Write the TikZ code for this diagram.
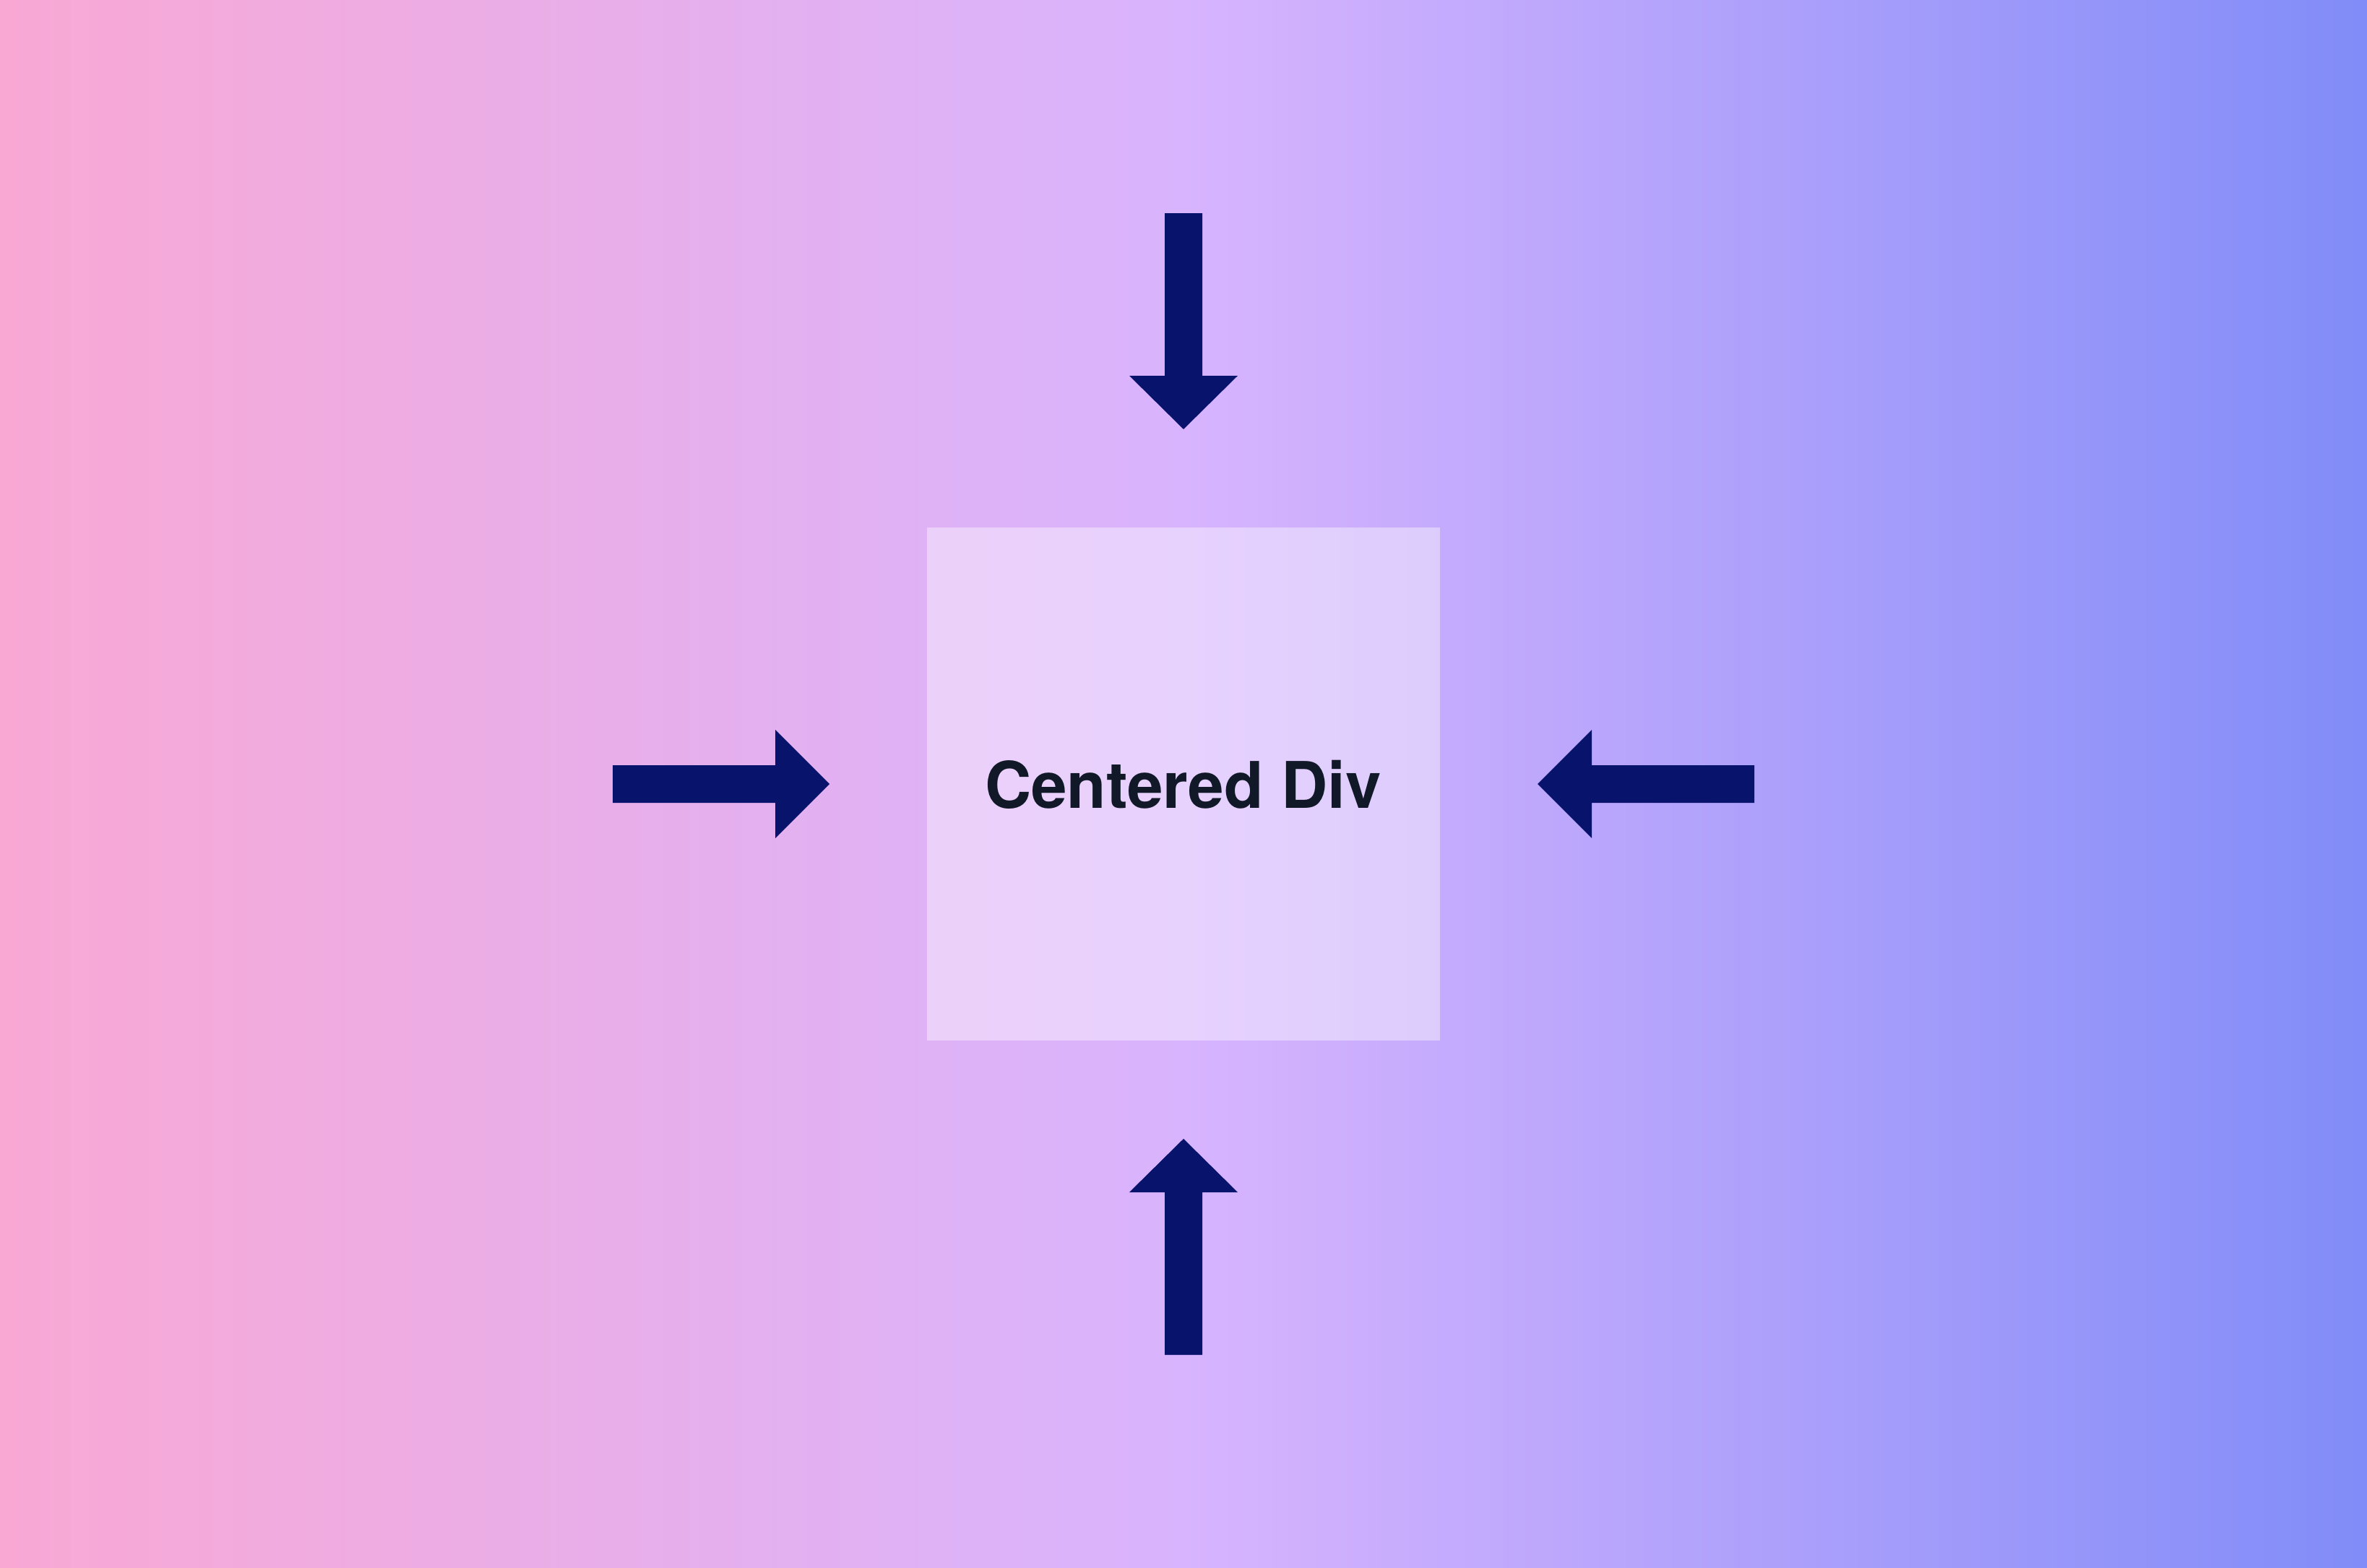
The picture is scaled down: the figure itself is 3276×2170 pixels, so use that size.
\documentclass[tikz,border=0pt]{standalone}
\usepackage{fontspec}
\setmainfont{TeX Gyre Heros}
\definecolor{pinkc}{HTML}{F9A8D4}
\definecolor{purplec}{HTML}{D8B4FE}
\definecolor{indigoc}{HTML}{818CF8}
\definecolor{arrowc}{HTML}{08136B}
\definecolor{textc}{HTML}{111827}
\tikzset{
  bigarrow/.style={fill=arrowc, draw=none},
  divbox/.style={fill=white, fill opacity=0.4, draw=none, inner sep=0pt, minimum size=710pt},
  divlabel/.style={font=\fontsize{89}{89}\selectfont\bfseries, text=textc, inner sep=0pt, anchor=base}
}
\begin{document}
\begin{tikzpicture}[x=1pt,y=-1pt]
\useasboundingbox (0,0) rectangle (3276,2170);
\shade[left color=pinkc, right color=indigoc, middle color=purplec] (0,0) rectangle (3276,2170);
% centered box
\node[divbox] (box) at (1638,1085) {};
\node[divlabel] (label) at (1637.5,1118) {Centered Div};
% top arrow (pointing down)
\fill[bigarrow] (1612,295) -- (1664,295) -- (1664,520) -- (1713,520) -- (1638,594) -- (1563,520) -- (1612,520) -- cycle;
% bottom arrow (pointing up)
\fill[bigarrow] (1612,1875) -- (1664,1875) -- (1664,1650) -- (1713,1650) -- (1638,1576) -- (1563,1650) -- (1612,1650) -- cycle;
% left arrow (pointing right)
\fill[bigarrow] (848,1059) -- (1073,1059) -- (1073,1010) -- (1148,1085) -- (1073,1160) -- (1073,1111) -- (848,1111) -- cycle;
% right arrow (pointing left)
\fill[bigarrow] (2428,1059) -- (2203,1059) -- (2203,1010) -- (2128,1085) -- (2203,1160) -- (2203,1111) -- (2428,1111) -- cycle;
\end{tikzpicture}
\end{document}
